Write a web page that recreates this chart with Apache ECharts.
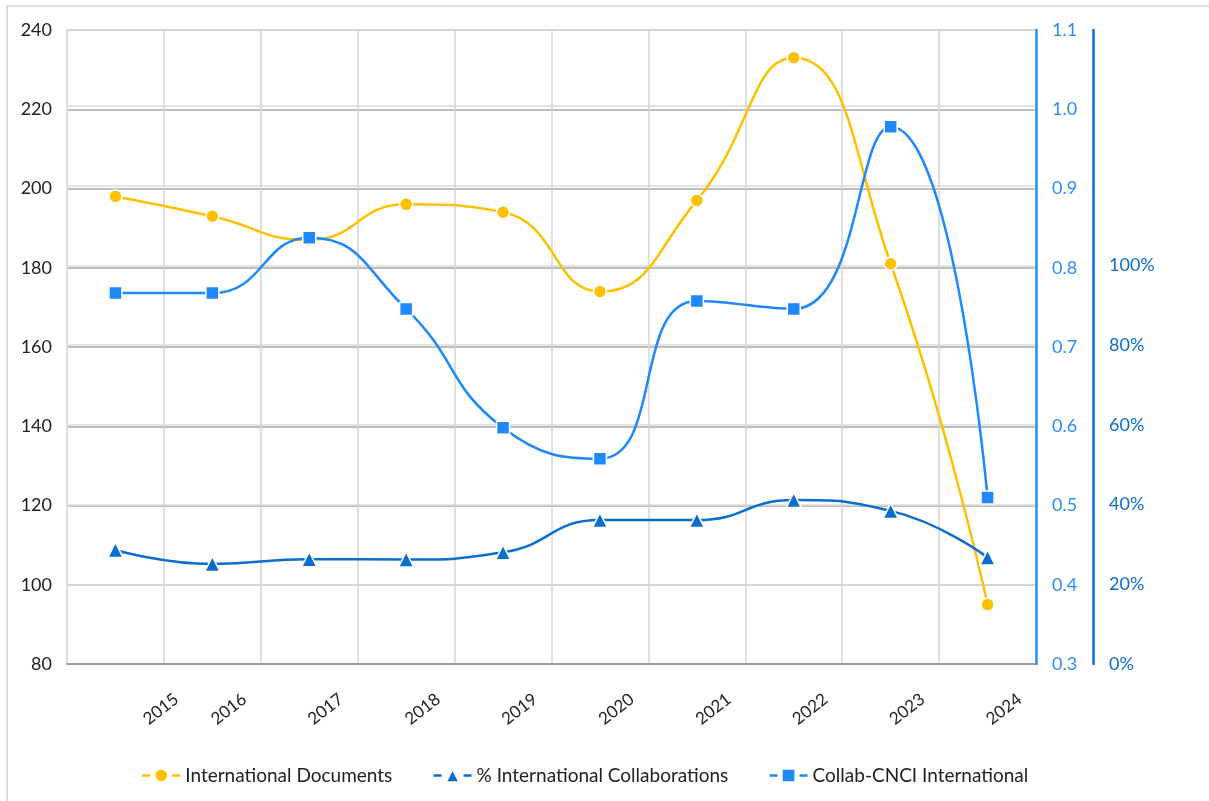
<!DOCTYPE html>
<html>
<head>
<meta charset="utf-8">
<script src="https://cdn.jsdelivr.net/npm/echarts@6/dist/echarts.min.js"></script>
<style>
  html, body { margin: 0; padding: 0; background: #fff; }
  .frame {
    position: absolute; left: 6px; top: 5px; width: 1203px; height: 796px;
    border-left: 2px solid #dedede; border-top: 2px solid #dedede; box-sizing: border-box;
  }
  #chart { position: absolute; left: 0; top: 0; width: 1209px; height: 801px; }
</style>
</head>
<body>
<div class="frame"></div>
<div id="chart"></div>
<script>
  const years = ['2015', '2016', '2017', '2018', '2019', '2020', '2021', '2022', '2023', '2024'];
  const intlDocs = [198, 193, 187, 196, 194, 174, 197, 233, 181, 95];
  const intlCollabPct = [28.6, 25.1, 26.3, 26.2, 28.0, 36.1, 36.1, 41.1, 38.4, 26.7];
  const collabCnci = [0.768, 0.768, 0.838, 0.748, 0.598, 0.559, 0.758, 0.748, 0.978, 0.51];

  const FONT = 'Lato';
  const yellow = '#ffc000';
  const darkBlue = '#0a6ed1';
  const lightBlue = '#1f88fb';

  // year labels sit to the right of the points, the first one even further
  function yearAxis(gridIndex, showFirst) {
    return {
      type: 'category',
      gridIndex: gridIndex,
      data: years,
      boundaryGap: true,
      axisLine: { show: false },
      axisTick: { show: false },
      splitLine: { show: false },
      axisLabel: {
        rotate: 38,
        margin: 33,
        fontSize: 17,
        color: '#222',
        interval: 0,
        fontFamily: FONT,
        formatter: (v, i) => ((i === 0) === showFirst ? v : '')
      }
    };
  }

  const chart = echarts.init(document.getElementById('chart'));
  chart.setOption({
    animation: false,
    textStyle: { fontFamily: FONT },
    grid: [
      { left: 67, right: 173, top: 30, bottom: 137 },
      { left: 99, right: 141, top: 30, bottom: 137 },
      { left: 128, right: 112, top: 30, bottom: 137 }
    ],
    legend: {
      bottom: 11,
      left: 136,
      itemWidth: 38,
      itemHeight: 17,
      itemGap: 40,
      lineStyle: { type: [8, 22], width: 2.5 },
      textStyle: { fontSize: 19, color: '#222', fontFamily: FONT },
      data: ['International Documents', '% International Collaborations', 'Collab-CNCI International']
    },
    xAxis: [
      {
        type: 'category',
        gridIndex: 0,
        data: years,
        boundaryGap: true,
        axisLine: { lineStyle: { color: '#8a8a8a', width: 1.5 } },
        axisTick: { show: false },
        axisLabel: { show: false },
        splitLine: { show: true, lineStyle: { color: '#d4d4d4', width: 1.5 } }
      },
      yearAxis(1, false),
      yearAxis(2, true)
    ],
    yAxis: [
      {
        type: 'value',
        gridIndex: 0,
        position: 'left',
        min: 80,
        max: 240,
        interval: 20,
        axisLine: { show: true, lineStyle: { color: '#d6dfeb', width: 2 } },
        axisTick: { show: false },
        axisLabel: { fontSize: 18, color: '#222', margin: 15 },
        splitLine: { lineStyle: { color: '#a8a8a8', width: 1.5 } }
      },
      {
        type: 'value',
        gridIndex: 0,
        position: 'right',
        min: 0.3,
        max: 1.1,
        interval: 0.1,
        axisLine: { show: true, lineStyle: { color: '#2a8cf7', width: 2.5 } },
        axisTick: { show: false },
        axisLabel: {
          fontSize: 18,
          color: '#2a8cf7',
          margin: 16,
          formatter: (v) => v.toFixed(1)
        },
        splitLine: { show: false }
      },
      {
        type: 'value',
        gridIndex: 0,
        position: 'right',
        offset: 57,
        min: 0,
        max: 159,
        interval: 20,
        axisLine: { show: true, lineStyle: { color: darkBlue, width: 2.5 } },
        axisTick: { show: false },
        axisLabel: {
          fontSize: 18,
          color: darkBlue,
          margin: 16,
          formatter: (v) => (v <= 100 ? v + '%' : '')
        },
        splitLine: { show: true, lineStyle: { color: '#dcdcdc', width: 1.5 } }
      },
      { type: 'value', gridIndex: 1, show: false },
      { type: 'value', gridIndex: 2, show: false }
    ],
    series: [
      {
        name: 'International Documents',
        type: 'line',
        xAxisIndex: 0,
        yAxisIndex: 0,
        data: intlDocs,
        smooth: true,
        symbol: 'circle',
        symbolSize: 13,
        color: yellow,
        lineStyle: { width: 2.5 },
        itemStyle: { borderColor: '#fff', borderWidth: 1.5 }
      },
      {
        name: '% International Collaborations',
        type: 'line',
        xAxisIndex: 0,
        yAxisIndex: 2,
        data: intlCollabPct,
        smooth: true,
        symbol: 'triangle',
        symbolSize: 15,
        color: darkBlue,
        lineStyle: { width: 2.5 },
        itemStyle: { borderColor: '#fff', borderWidth: 1.5 }
      },
      {
        name: 'Collab-CNCI International',
        type: 'line',
        xAxisIndex: 0,
        yAxisIndex: 1,
        data: collabCnci,
        smooth: true,
        symbol: 'rect',
        symbolSize: 13,
        color: lightBlue,
        lineStyle: { width: 2.5 },
        itemStyle: { borderColor: '#fff', borderWidth: 1.5 }
      }
    ]
  });
</script>
</body>
</html>
